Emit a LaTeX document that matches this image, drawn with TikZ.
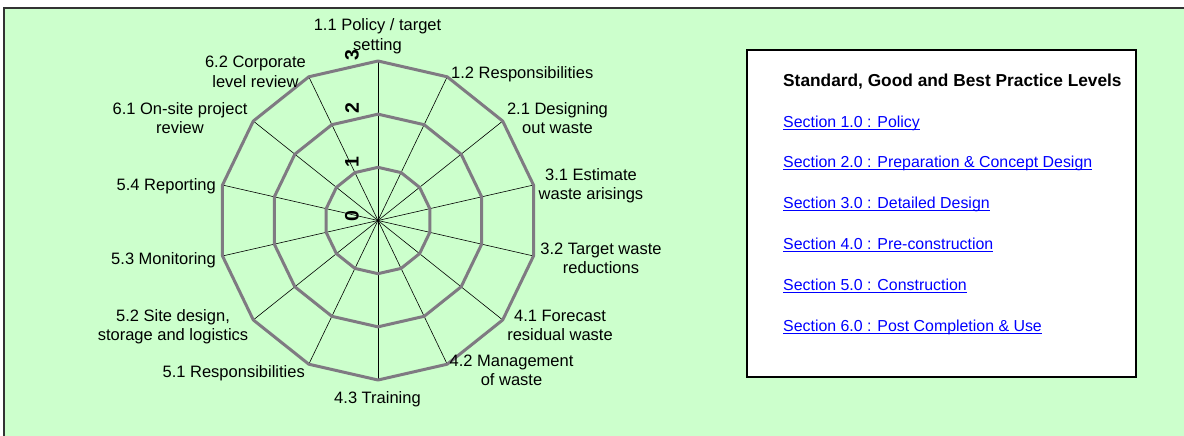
\documentclass[tikz,border=0pt]{standalone}
\usepackage{fontspec}
\setmainfont{Liberation Sans}
\definecolor{bggreen}{HTML}{CCFFCC}
\definecolor{framegray}{HTML}{333333}
\definecolor{ringgray}{HTML}{7F7A82}
\definecolor{linkblue}{HTML}{0000FF}
\begin{document}
\begin{tikzpicture}[x=1pt,y=-1pt,
  lbl/.style={font=\fontsize{16.5}{19.5}\selectfont, align=center, inner sep=0pt, text=black},
  num/.style={font=\fontsize{19.5}{21}\selectfont\bfseries, rotate=90, inner sep=0pt},
  spoke/.style={draw=black, line width=0.6pt},
  ring/.style={draw=ringgray, line width=3pt, line join=round},
  ttl/.style={font=\fontsize{17.3}{20}\selectfont\bfseries, inner sep=0pt, anchor=base west},
  lnk/.style={font=\fontsize{15.9}{18}\selectfont, text=linkblue, inner sep=0pt, anchor=base west},
  uline/.style={draw=linkblue, line width=0.9pt}]
\useasboundingbox (0,0) rectangle (1184,436);
\fill[white] (0,0) rectangle (1184,436);
\draw[fill=bggreen, draw=framegray, line width=2pt] (4,8) rectangle (1200,450);

% radar chart
\coordinate (O) at (378,220.5);
\foreach \i in {0,...,13}{
  \coordinate (v\i) at ({378+159.5*sin(\i*360/14)},{220.5-159.5*cos(\i*360/14)});
  \draw[spoke] (O) -- (v\i);
}
\foreach \k in {1,2,3}{
  \draw[ring] ({378},{220.5-53.17*\k})
    \foreach \i in {1,...,13}{ -- ({378+53.17*\k*sin(\i*360/14)},{220.5-53.17*\k*cos(\i*360/14)}) } -- cycle;
}

% scale numbers
\node[num] (n0) at (352,216) {0};
\node[num] (n1) at (352,162) {1};
\node[num] (n2) at (352,108) {2};
\node[num] (n3) at (352,55.5) {3};

% axis labels (base = baseline of last line)
\node[lbl, anchor=base] (l11) at (377.5,50.5) {1.1 Policy / target\\setting};
\node[lbl, anchor=base west] (l12) at (451,78) {1.2 Responsibilities};
\node[lbl, anchor=base] (l21) at (557.5,133.5) {2.1 Designing\\out waste};
\node[lbl, anchor=base] (l31) at (591,199.5) {3.1 Estimate\\waste arisings};
\node[lbl, anchor=base] (l32) at (601,273.5) {3.2 Target waste\\reductions};
\node[lbl, anchor=base] (l41) at (560,340.5) {4.1 Forecast\\residual waste};
\node[lbl, anchor=base] (l42) at (511.5,385.5) {4.2 Management\\of waste};
\node[lbl, anchor=base] (l43) at (377.5,403) {4.3 Training};
\node[lbl, anchor=base east] (l51) at (305,377) {5.1 Responsibilities};
\node[lbl, anchor=base] (l52) at (173,340.5) {5.2 Site design,\\storage and logistics};
\node[lbl, anchor=base east] (l53) at (216,264) {5.3 Monitoring};
\node[lbl, anchor=base east] (l54) at (216,190) {5.4 Reporting};
\node[lbl, anchor=base] (l61) at (180,133.5) {6.1 On-site project\\review};
\node[lbl, anchor=base] (l62) at (255.5,87.5) {6.2 Corporate\\level review};

% legend box
\draw[fill=white, draw=black, line width=1.3pt] (747,50) rectangle (1136,377);
\node[ttl] (title) at (783,86) {Standard, Good and Best Practice Levels};
\node[lnk] (s1) at (783,127.5) {Section 1.0 : Policy};
\node[lnk] (s2) at (783,167.5) {Section 2.0 : Preparation \& Concept Design};
\node[lnk] (s3) at (783,208.5) {Section 3.0 : Detailed Design};
\node[lnk] (s4) at (783,249.5) {Section 4.0 : Pre-construction};
\node[lnk] (s5) at (783,290.5) {Section 5.0 : Construction};
\node[lnk] (s6) at (783,331.5) {Section 6.0 : Post Completion \& Use};
\foreach \s in {s1,s2,s3,s4,s5,s6}{
  \draw[uline] ([yshift=-2pt]\s.base west) -- ([yshift=-2pt]\s.base east);
}
\end{tikzpicture}
\end{document}
